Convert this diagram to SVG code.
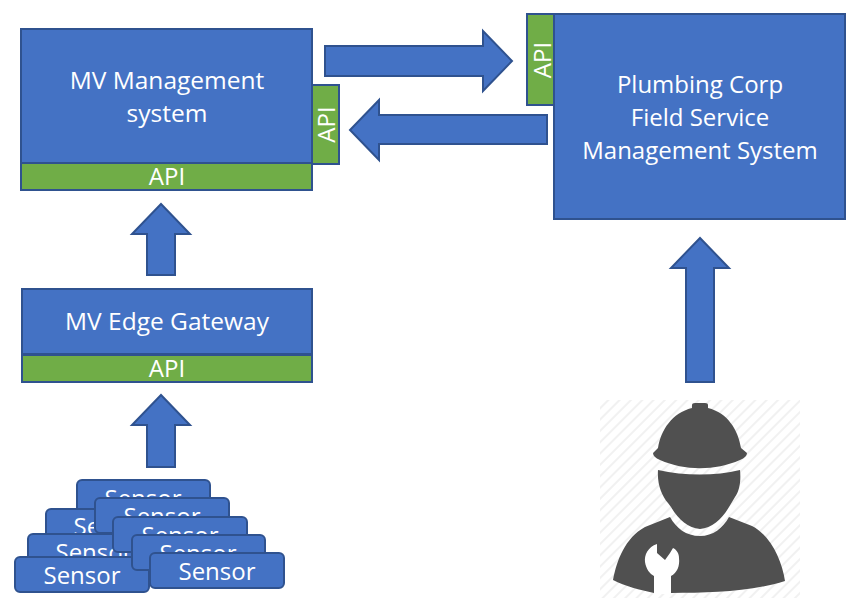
<svg xmlns="http://www.w3.org/2000/svg" width="854" height="615" viewBox="0 0 854 615">
<style>
.b{fill:#4472c4;stroke:#2f528f;stroke-width:2}
.g{fill:#70ad47;stroke:#2f528f;stroke-width:2}
.t{font-family:"Open Sans","Noto Sans",sans-serif;fill:#fff;text-anchor:middle}
.l{font-size:24px}
.m{font-size:24.500px}
.s{font-size:24px}
.d{fill:#505050}
</style>
<defs>
<pattern id="h" width="8" height="8" patternUnits="userSpaceOnUse" patternTransform="rotate(-45)">
<rect width="8" height="8" fill="#fff"/><rect width="8" height="2" fill="#f1f1f1"/>
</pattern>
</defs>
<rect width="854" height="615" fill="#fff"/>
<g id="connectors">
<path class="b" d="M325 46H483V31L512 61L483 91V76H325Z"/>
<path class="b" d="M547 115H379V100L350 130L379 160V144H547Z"/>
<path class="b" d="M147 275V234H132L161 204L190 234H175V275Z"/>
<path class="b" d="M147 467V425H132L161 395L190 425H175V467Z"/>
<path class="b" d="M686 382V268H671L700 238L729 268H714V382Z"/>
</g>
<g id="mv-management">
<rect class="b" x="21" y="29" width="291" height="134"/>
<text class="t m" x="167" y="89">MV Management</text>
<text class="t m" x="167" y="122">system</text>
</g>
<g id="mv-management-api-bottom">
<rect class="g" x="21" y="163" width="291" height="27"/>
<text class="t s" x="167" y="185">API</text>
</g>
<g id="mv-management-api-side">
<rect class="g" x="312" y="85" width="27" height="79"/>
<text class="t s" transform="translate(335 124.500) rotate(-90)">API</text>
</g>
<g id="field-service">
<rect class="b" x="554" y="14" width="291" height="205"/>
<text class="t l" x="700" y="93">Plumbing Corp</text>
<text class="t l" x="700" y="126">Field Service</text>
<text class="t l" x="700" y="159">Management System</text>
</g>
<g id="field-service-api">
<rect class="g" x="527" y="14" width="27" height="91"/>
<text class="t s" transform="translate(551 60) rotate(-90)">API</text>
</g>
<g id="edge-gateway">
<rect class="b" x="22" y="289" width="290" height="65"/>
<text class="t m" x="167" y="330">MV Edge Gateway</text>
</g>
<g id="edge-gateway-api">
<rect class="g" x="22" y="355" width="290" height="27"/>
<text class="t s" x="167" y="377">API</text>
</g>
<g id="sensor-1"><rect class="b" x="77" y="480" width="133" height="35" rx="5"/><text class="t s" x="143" y="507">Sensor</text></g>
<g id="sensor-2"><rect class="b" x="46" y="509" width="133" height="35" rx="5"/><text class="t s" x="112" y="535">Sensor</text></g>
<g id="sensor-3"><rect class="b" x="28" y="534" width="133" height="35" rx="5"/><text class="t s" x="94" y="561">Sensor</text></g>
<g id="sensor-4"><rect class="b" x="15" y="557" width="134" height="35" rx="5"/><text class="t s" x="82" y="584">Sensor</text></g>
<g id="sensor-5"><rect class="b" x="95" y="498" width="134" height="35" rx="5"/><text class="t s" x="162" y="525">Sensor</text></g>
<g id="sensor-6"><rect class="b" x="113" y="517" width="134" height="35" rx="5"/><text class="t s" x="180" y="544">Sensor</text></g>
<g id="sensor-7"><rect class="b" x="132" y="535" width="133" height="35" rx="5"/><text class="t s" x="198" y="562">Sensor</text></g>
<g id="sensor-8"><rect class="b" x="150" y="553" width="134" height="35" rx="5"/><text class="t s" x="217" y="580">Sensor</text></g>
<g id="worker">
<rect x="600" y="400" width="200" height="198" fill="url(#h)"/>
<path class="d" d="M692 405Q692 403 695 403H705Q708 403 708 405V408C728 413 738 430 741 448L747 453Q747 457 740 460C715 471 685 471 660 460Q653 457 653 453L658 448C661 430 672 413 692 408Z"/>
<path class="d" d="M658 470C685 476 715 476 740 470C741 480 740 490 735 497L729 507C722 519 712 528 700 529C688 528 678 519 671 507L668 503C662 496 657 485 658 470Z"/>
<path class="d" d="M670 517C676 528 686 536 700 536C713 536 723 528 729 517L752 526C770 535 782 560 785 581C750 592 710 593 671 593H654C640 590 625 586 613 580C617 560 625 538 645 527Z"/>
<path d="M657 544C648 547 644 555 645 562C646 569 650 574 654 576V594H671V576C677 573 680 566 679 558C679 554 677 550 673 548L670 553L665 560L657 553Z" fill="#fff"/>
</g>
</svg>
